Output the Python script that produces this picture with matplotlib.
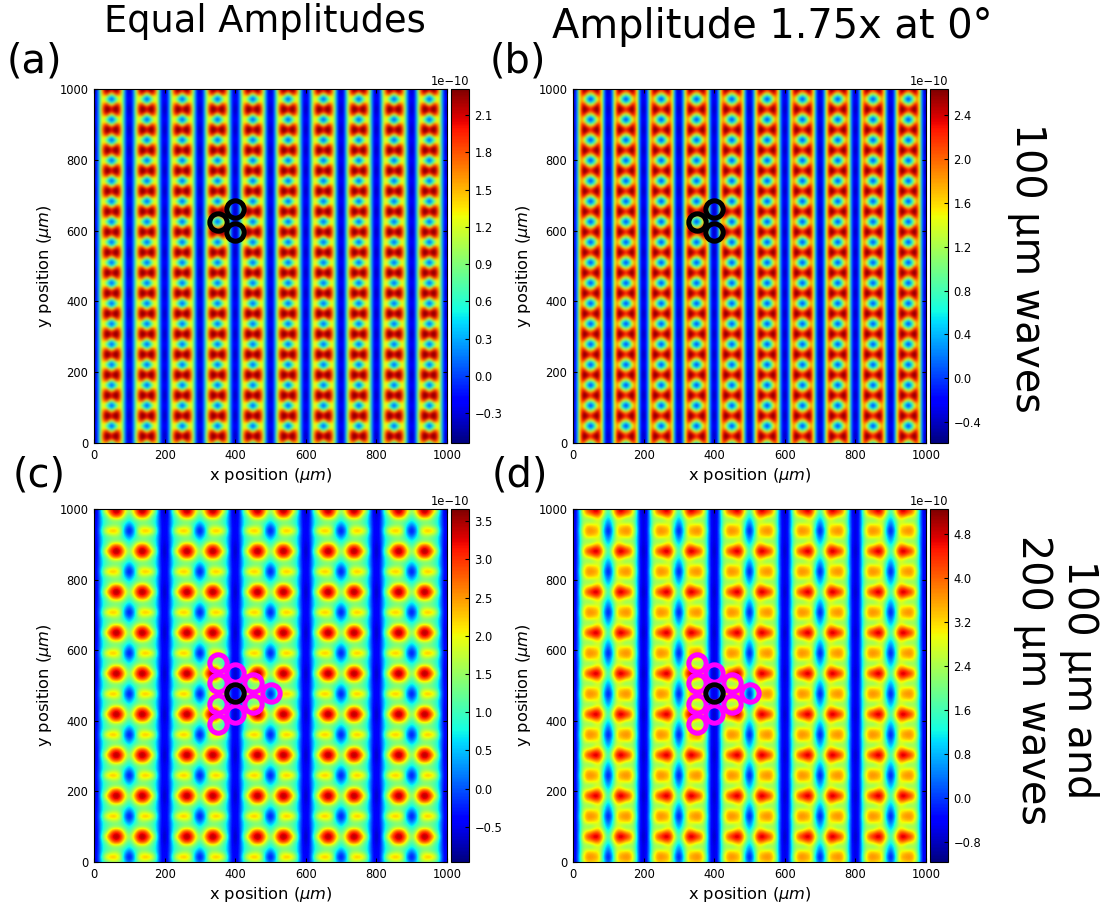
import numpy as np
import matplotlib
matplotlib.use('Agg')
import matplotlib.pyplot as plt

W, H = 1108, 910

# colour range of each panel, in units of 1e-10
range_a = (-0.54, 2.31)
range_b = (-0.59, 2.64)
range_c = (-0.96, 3.66)
range_d = (-1.16, 5.25)

ticks_a = [-0.3, 0.0, 0.3, 0.6, 0.9, 1.2, 1.5, 1.8, 2.1]
ticks_b = [-0.4, 0.0, 0.4, 0.8, 1.2, 1.6, 2.0, 2.4]
ticks_c = [-0.5, 0.0, 0.5, 1.0, 1.5, 2.0, 2.5, 3.0, 3.5]
ticks_d = [-0.8, 0.0, 0.8, 1.6, 2.4, 3.2, 4.0, 4.8]

# one quarter of the repeating cell, read off the picture as a fraction of the
# colour range. rows run from the red row to the spot row, columns from the
# blue stripe to the spot column
cell_a = [
    [.06, .10, .27, .55, .80, .95, 1.0, .97, .92],
    [.07, .10, .27, .54, .78, .92, .97, .92, .85],
    [.08, .11, .27, .52, .73, .83, .83, .70, .58],
    [.10, .12, .27, .50, .66, .66, .55, .40, .32],
    [.11, .13, .27, .50, .64, .56, .40, .27, .20],
]
cell_b = [
    [.06, .10, .30, .65, .90, 1.0, .98, .92, .88],
    [.07, .10, .30, .65, .88, .97, .92, .84, .78],
    [.08, .11, .30, .65, .85, .88, .75, .62, .55],
    [.09, .12, .30, .63, .78, .70, .50, .37, .30],
    [.10, .13, .30, .62, .74, .62, .42, .25, .17],
]
cell_c = [
    [.03, .15, .50, .78, .93, 1.0, .95, .72, .50],
    [.05, .15, .40, .50, .80, .90, .82, .55, .42],
    [.07, .16, .38, .45, .47, .48, .47, .44, .36],
    [.08, .16, .38, .46, .52, .54, .48, .35, .18],
    [.08, .16, .50, .72, .77, .75, .62, .20, .10],
]
cell_d = [
    [.03, .15, .58, .85, .92, 1.0, .95, .66, .38],
    [.05, .15, .52, .66, .70, .80, .78, .54, .33],
    [.06, .16, .50, .50, .46, .52, .60, .42, .25],
    [.06, .16, .50, .70, .72, .68, .64, .38, .15],
    [.06, .16, .58, .76, .77, .76, .70, .28, .08],
]

# ring positions in um
rings_top_x = [350, 400, 400]
rings_top_y = [625, 660, 596]
rings_pink_x = [350, 400, 350, 450, 400, 500, 350, 450, 400, 350]
rings_pink_y = [565, 536, 507, 507, 478, 478, 449, 449, 420, 391]
ring_black_x = [400]
ring_black_y = [478]

# cell sizes in um, and where the first red row sits
period_top = (100.0, 57.7)
period_bottom = (200.0, 115.5)
start_top = -100.0, 654.0 - 57.7 * 12
start_bottom = -200.0, 72.0 - 115.5


def ax_px(left, top, right, bottom):
    return [left / W, 1 - bottom / H, (right - left) / W, (bottom - top) / H]


def tile_cell(cell, period, start):
    quarter = np.array(cell)
    half = np.concatenate([quarter, quarter[-2:0:-1]], axis=0)
    full = np.concatenate([half, half[:, -2:0:-1]], axis=1)
    reps_x = int(1200 // period[0]) + 2
    reps_y = int(1200 // period[1]) + 2
    field = np.tile(full, (reps_y, reps_x))
    dx = period[0] / full.shape[1]
    dy = period[1] / full.shape[0]
    extent = [start[0] - dx / 2, start[0] + dx * (field.shape[1] - 0.5),
              start[1] - dy / 2, start[1] + dy * (field.shape[0] - 0.5)]
    return field, extent


def draw_panel(fig, box, cbar_box, cell, vrange, ticks, period, start):
    ax = fig.add_axes(ax_px(*box))
    field, extent = tile_cell(cell, period, start)
    values = (vrange[0] + field * (vrange[1] - vrange[0])) * 1e-10
    im = ax.imshow(values, origin='lower', extent=extent, cmap='jet', aspect='auto',
                   interpolation='bicubic', vmin=vrange[0] * 1e-10, vmax=vrange[1] * 1e-10)
    ax.set_xlim(0, 1000)
    ax.set_ylim(0, 1000)
    ax.set_xticks(range(0, 1001, 200))
    ax.set_yticks(range(0, 1001, 200))
    ax.tick_params(direction='in', top=True, right=True, labelsize=8.3, length=3, pad=4)
    ax.set_xlabel(r'x position ($\mu m$)', fontsize=11.7, labelpad=3)
    ax.set_ylabel(r'y position ($\mu m$)', fontsize=11.7, labelpad=4)

    cax = fig.add_axes(ax_px(*cbar_box))
    cb = fig.colorbar(im, cax=cax)
    cb.set_ticks([t * 1e-10 for t in ticks])
    cb.ax.tick_params(direction='in', labelsize=8.3, length=3, pad=4)
    cb.ax.yaxis.get_offset_text().set_fontsize(8.3)
    return ax


def draw_rings(ax, x, y, color):
    ax.plot(x, y, 'o', mfc='none', mec=color, ms=12.5, mew=3.6)
    ax.set_xlim(0, 1000)
    ax.set_ylim(0, 1000)


fig = plt.figure(figsize=(W / 100, H / 100), dpi=100)

ax_a = draw_panel(fig, (94, 89, 447, 443), (451, 89, 469, 443), cell_a, range_a, ticks_a,
                  period_top, start_top)
ax_b = draw_panel(fig, (573, 89, 926, 443), (930, 89, 948, 443), cell_b, range_b, ticks_b,
                  period_top, start_top)
ax_c = draw_panel(fig, (94, 509, 447, 862), (451, 509, 469, 862), cell_c, range_c, ticks_c,
                  period_bottom, start_bottom)
ax_d = draw_panel(fig, (573, 509, 926, 862), (930, 509, 948, 862), cell_d, range_d, ticks_d,
                  period_bottom, start_bottom)

draw_rings(ax_a, rings_top_x, rings_top_y, 'black')
draw_rings(ax_b, rings_top_x, rings_top_y, 'black')
for ax in (ax_c, ax_d):
    draw_rings(ax, rings_pink_x, rings_pink_y, '#ff00ff')
    draw_rings(ax, ring_black_x, ring_black_y, 'black')

fig.text(265 / W, 1 - 22 / H, 'Equal Amplitudes', fontsize=26.5, ha='center', va='center')
fig.text(772 / W, 1 - 27 / H, 'Amplitude 1.75x at 0°', fontsize=28.7, ha='center', va='center')
fig.text(34 / W, 1 - 62 / H, '(a)', fontsize=28.7, ha='center', va='center')
fig.text(518 / W, 1 - 62 / H, '(b)', fontsize=28.7, ha='center', va='center')
fig.text(39 / W, 1 - 476 / H, '(c)', fontsize=28.7, ha='center', va='center')
fig.text(520 / W, 1 - 476 / H, '(d)', fontsize=28.7, ha='center', va='center')
fig.text(1027 / W, 1 - 268 / H, '100 μm waves', fontsize=28.5, rotation=270,
         ha='center', va='center')
fig.text(1056 / W, 1 - 680 / H, '100 μm and\n200 μm waves', fontsize=28.5, rotation=270,
         ha='center', va='center', multialignment='center')

fig.savefig('out.png', dpi=100)
plt.close(fig)
